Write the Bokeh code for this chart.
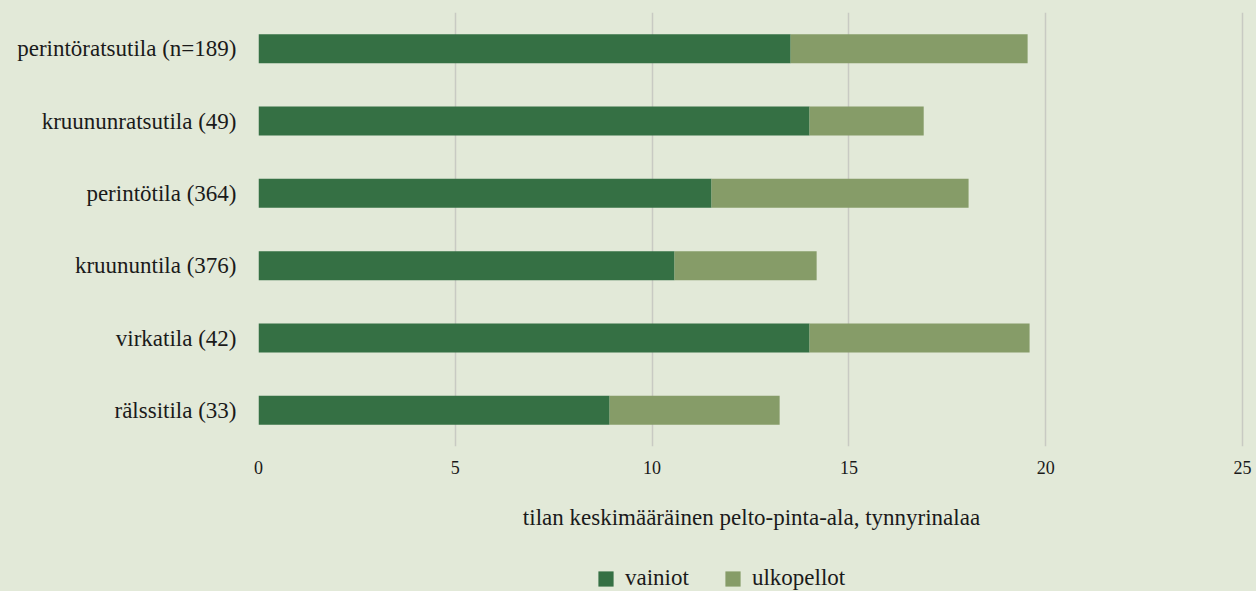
from bokeh.plotting import figure
from bokeh.layouts import column
from bokeh.models import ColumnDataSource, Range1d, FactorRange, Legend, LegendItem, FixedTicker
from bokeh.embed import file_html
from bokeh.resources import INLINE

categories = ["perintöratsutila (n=189)", "kruununratsutila (49)", "perintötila (364)",
              "kruununtila (376)", "virkatila (42)", "rälssitila (33)"]
vainiot = [13.52, 14.0, 11.51, 10.57, 14.0, 8.92]
ulkopellot = [6.02, 2.9, 6.53, 3.61, 5.59, 4.32]
x_ticks = [0, 5, 10, 15, 20, 25]
series_names = ["vainiot", "ulkopellot"]
colors = ["#357044", "#869c68"]

FONT = "Liberation Serif"
BG = "#e2e9d8"
TXT = "#1a1a1a"

source = ColumnDataSource(dict(cat=categories, vainiot=vainiot, ulkopellot=ulkopellot))

p = figure(width=1256, height=545,
           y_range=FactorRange(*reversed(categories)),
           x_range=Range1d(0, 25.05),
           output_backend="svg", toolbar_location=None,
           min_border_left=258, min_border_right=12,
           min_border_top=12, min_border_bottom=99)

p.background_fill_color = BG
p.border_fill_color = BG
p.outline_line_color = None

renderers = p.hbar_stack(series_names, y="cat", height=0.4, color=colors,
                         line_color=None, source=source)

p.xaxis.ticker = FixedTicker(ticks=x_ticks)
p.xgrid.ticker = FixedTicker(ticks=x_ticks)
p.xgrid.grid_line_color = "#c8cac3"
p.xgrid.grid_line_width = 1.5
p.ygrid.grid_line_color = None

for ax in (p.xaxis, p.yaxis):
    ax.axis_line_color = None
    ax.major_tick_line_color = None
    ax.minor_tick_line_color = None
    ax.major_label_text_font = FONT
    ax.major_label_text_color = TXT

p.yaxis.major_label_text_font_size = "23px"
p.yaxis.major_label_standoff = 16
p.xaxis.major_label_text_font_size = "18px"
p.xaxis.major_label_standoff = 8
p.xaxis.axis_label = "tilan keskimääräinen pelto-pinta-ala, tynnyrinalaa"
p.xaxis.axis_label_text_font = FONT
p.xaxis.axis_label_text_font_style = "normal"
p.xaxis.axis_label_text_font_size = "23px"
p.xaxis.axis_label_text_color = TXT
p.xaxis.axis_label_standoff = 28

# legend strip below the chart (its renderers are hidden; only the legend shows)
lf = figure(width=1256, height=46, x_range=Range1d(0, 25),
            y_range=FactorRange(*reversed(categories)),
            output_backend="svg", toolbar_location=None,
            x_axis_location=None, y_axis_location=None,
            min_border_left=0, min_border_right=0, min_border_top=0, min_border_bottom=0)
lf.background_fill_color = BG
lf.border_fill_color = BG
lf.outline_line_color = None
lf.xgrid.grid_line_color = None
lf.ygrid.grid_line_color = None

legend_renderers = lf.hbar_stack(series_names, y="cat", height=0.4, color=colors,
                                 line_color=None, source=source, visible=False)
legend = Legend(items=[LegendItem(label=n, renderers=[r]) for n, r in zip(series_names, legend_renderers)],
                orientation="horizontal", location=(338, 0),
                label_text_font=FONT, label_text_font_size="23px", label_text_color=TXT,
                glyph_width=19, glyph_height=19, label_standoff=10, spacing=34,
                background_fill_alpha=0, border_line_color=None, padding=0, margin=0)
lf.add_layout(legend, "center")

layout = column(p, lf, spacing=0, styles={"background-color": BG})
open("out.html", "w").write(file_html(layout, INLINE))
